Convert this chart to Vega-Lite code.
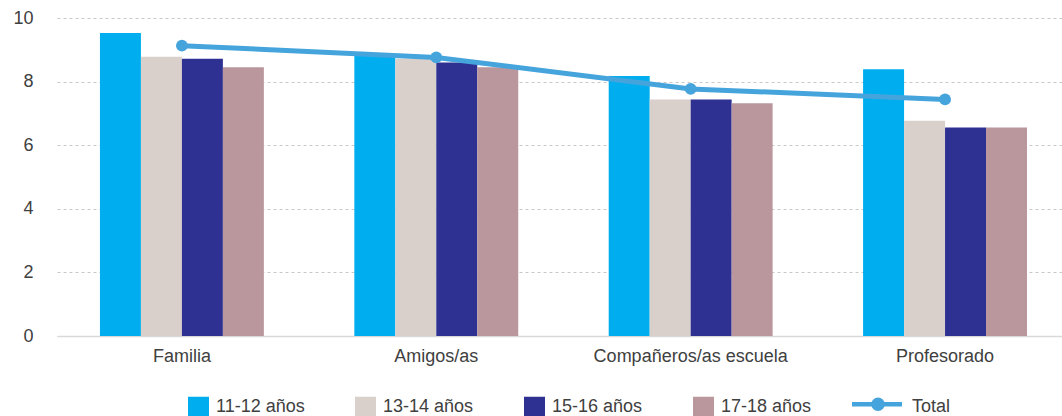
{
  "$schema": "https://vega.github.io/schema/vega-lite/v6.json",
  "width": 1005,
  "height": 318,
  "autosize": {"type": "none"},
  "padding": {"left": 57, "top": 18, "right": 0, "bottom": 80},
  "data": {
    "values": [
      {"categoria": "Familia", "serie": "11-12 años", "valor": 9.53},
      {"categoria": "Familia", "serie": "13-14 años", "valor": 8.78},
      {"categoria": "Familia", "serie": "15-16 años", "valor": 8.72},
      {"categoria": "Familia", "serie": "17-18 años", "valor": 8.45},
      {"categoria": "Familia", "serie": "Total", "valor": 9.13},
      {"categoria": "Amigos/as", "serie": "11-12 años", "valor": 8.85},
      {"categoria": "Amigos/as", "serie": "13-14 años", "valor": 8.72},
      {"categoria": "Amigos/as", "serie": "15-16 años", "valor": 8.6},
      {"categoria": "Amigos/as", "serie": "17-18 años", "valor": 8.45},
      {"categoria": "Amigos/as", "serie": "Total", "valor": 8.76},
      {"categoria": "Compañeros/as escuela", "serie": "11-12 años", "valor": 8.18},
      {"categoria": "Compañeros/as escuela", "serie": "13-14 años", "valor": 7.44},
      {"categoria": "Compañeros/as escuela", "serie": "15-16 años", "valor": 7.44},
      {"categoria": "Compañeros/as escuela", "serie": "17-18 años", "valor": 7.32},
      {"categoria": "Compañeros/as escuela", "serie": "Total", "valor": 7.77},
      {"categoria": "Profesorado", "serie": "11-12 años", "valor": 8.39},
      {"categoria": "Profesorado", "serie": "13-14 años", "valor": 6.77},
      {"categoria": "Profesorado", "serie": "15-16 años", "valor": 6.56},
      {"categoria": "Profesorado", "serie": "17-18 años", "valor": 6.56},
      {"categoria": "Profesorado", "serie": "Total", "valor": 7.44}
    ]
  },
  "encoding": {
    "x": {
      "field": "categoria",
      "type": "nominal",
      "sort": ["Familia", "Amigos/as", "Compañeros/as escuela", "Profesorado"],
      "scale": {"paddingInner": 0.3556, "paddingOuter": 0.1532, "align": 0.551},
      "axis": {
        "title": null,
        "labelAngle": 0,
        "ticks": false,
        "domain": true,
        "domainColor": "#d9d9d9",
        "domainWidth": 1.5,
        "labelPadding": 11,
        "labelFontSize": 18,
        "labelLimit": 400,
        "labelColor": "#404040",
        "labelFont": "Liberation Sans"
      }
    },
    "y": {
      "field": "valor",
      "type": "quantitative",
      "scale": {"domain": [0, 10], "nice": false},
      "axis": {
        "title": null,
        "values": [0, 2, 4, 6, 8, 10],
        "ticks": false,
        "domain": false,
        "grid": true,
        "gridColor": "#c8c8c8",
        "gridDash": [3, 3],
        "gridWidth": 1,
        "labelPadding": 24,
        "labelFontSize": 18,
        "labelColor": "#404040",
        "labelFont": "Liberation Sans"
      }
    },
    "color": {
      "field": "serie",
      "type": "nominal",
      "scale": {
        "domain": ["11-12 años", "13-14 años", "15-16 años", "17-18 años", "Total"],
        "range": ["#00aeef", "#d9d0cb", "#2e3192", "#b9979d", "#46a4dc"]
      },
      "legend": {
        "title": null,
        "orient": "bottom",
        "direction": "horizontal",
        "symbolSize": 2500,
        "labelFontSize": 18,
        "labelFont": "Liberation Sans",
        "labelColor": "#404040",
        "labelOffset": 29,
        "columnPadding": 31,
        "offset": 33,
        "encode": {
          "labels": {
            "update": {
              "dx": {"signal": "datum.value === 'Total' ? 13 : 0"}
            }
          },
          "symbols": {
            "update": {
              "shape": {"signal": "datum.value === 'Total' ? 'M-0.36,-0.12H1.64M0.86,-0.12A0.18,0.18 0 1,1 0.5,-0.12A0.18,0.18 0 1,1 0.86,-0.12Z' : 'M0.4,-0.42H1.24V0.42H0.4Z'"},
              "fill": {"scale": "color", "field": "value"},
              "stroke": {"scale": "color", "field": "value"},
              "strokeWidth": {"signal": "datum.value === 'Total' ? 4.5 : 0"},
              "opacity": {"value": 1},
              "fillOpacity": {"value": 1},
              "strokeOpacity": {"value": 1}
            }
          }
        }
      }
    }
  },
  "layer": [
    {
      "transform": [{"filter": "datum.serie !== 'Total'"}],
      "mark": {"type": "bar"},
      "encoding": {
        "xOffset": {
          "field": "serie",
          "type": "nominal",
          "sort": ["11-12 años", "13-14 años", "15-16 años", "17-18 años"],
          "scale": {"paddingInner": 0, "paddingOuter": 0}
        }
      }
    },
    {
      "transform": [{"filter": "datum.serie === 'Total'"}],
      "mark": {
        "type": "line",
        "strokeWidth": 5,
        "point": {"filled": true, "size": 140, "opacity": 1}
      },
      "encoding": {}
    }
  ],
  "config": {
    "view": {"stroke": null},
    "legend": {"layout": {"bottom": {"anchor": "middle"}}}
  }
}
